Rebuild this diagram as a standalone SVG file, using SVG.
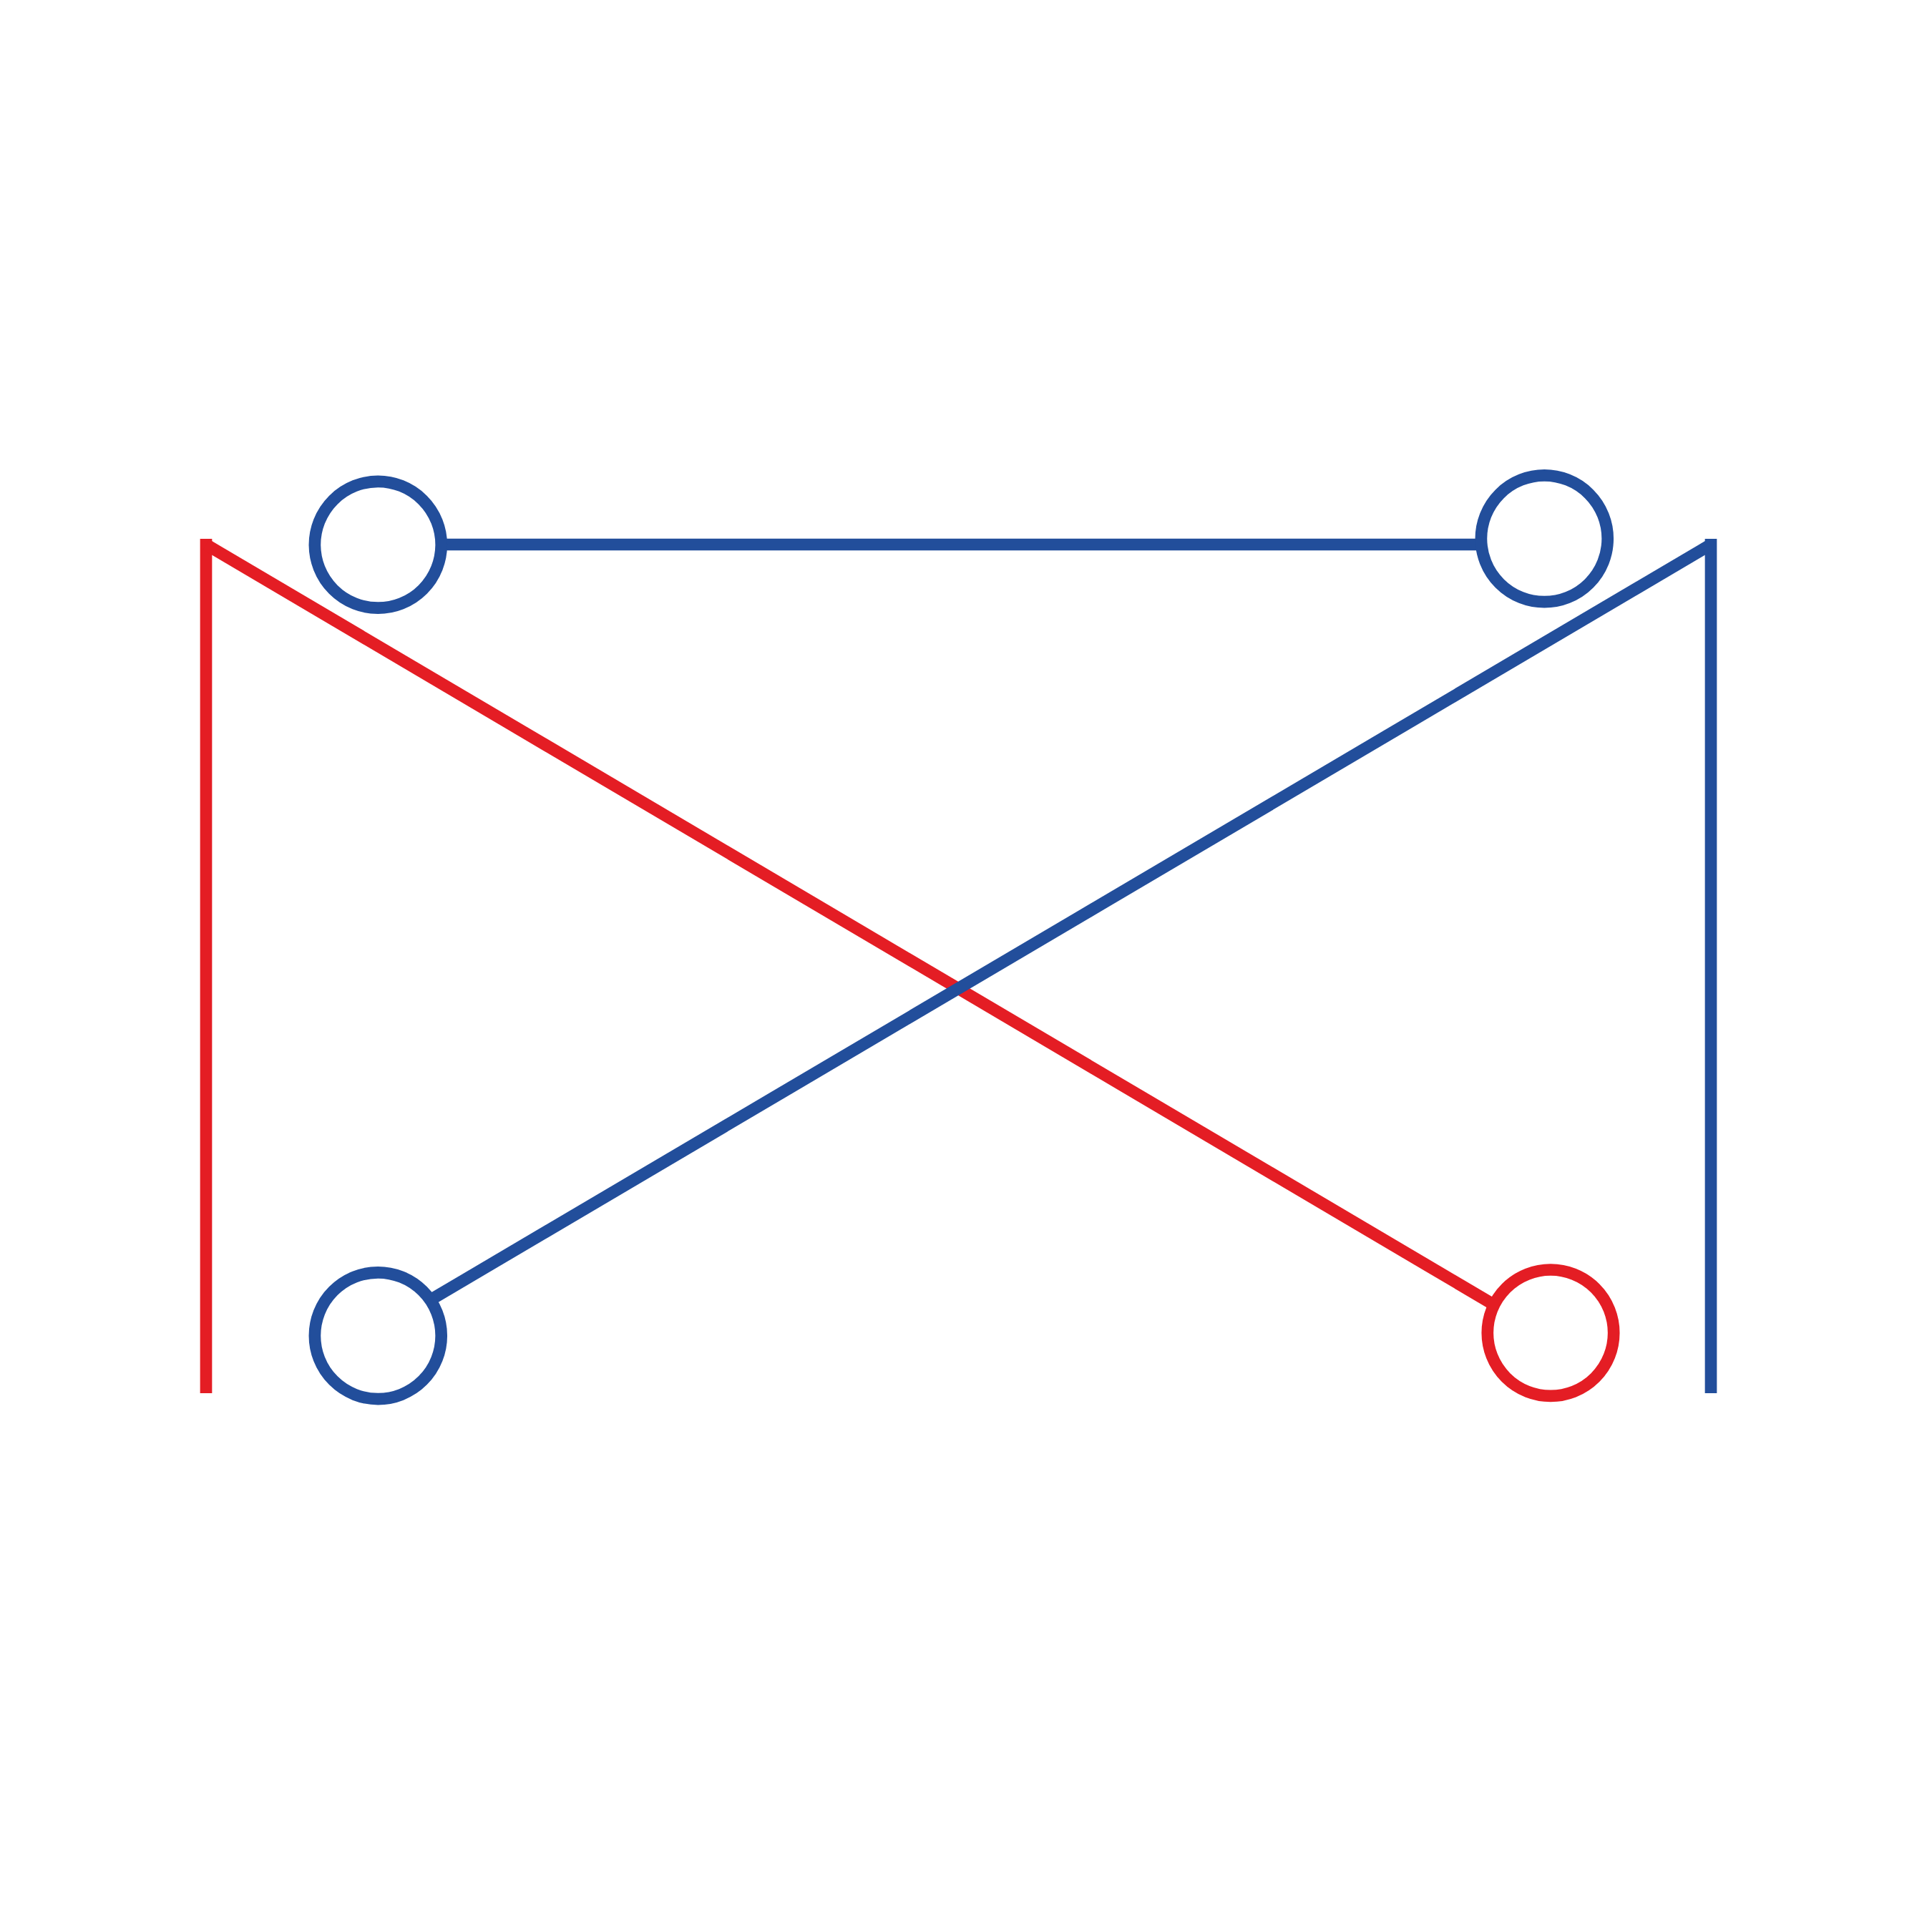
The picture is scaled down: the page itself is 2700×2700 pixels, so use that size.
<svg xmlns="http://www.w3.org/2000/svg" width="2700" height="2700" viewBox="0 0 2700 2700">
<style>
.b{stroke:#224E9B}
.r{stroke:#E41D24}
line,polyline{stroke-width:16.7;fill:none;stroke-linecap:butt}
circle{stroke-width:16.7;fill:#fff}
</style>
<rect width="2700" height="2700" fill="#fff"/>
<g id="connectors">
<line class="r" x1="288" y1="753" x2="288" y2="1947"/>
<line class="r" x1="288" y1="761" x2="2082" y2="1820"/>
<line class="b" x1="2391" y1="753" x2="2391" y2="1947"/>
<line class="b" x1="2391" y1="761" x2="606" y2="1814"/>
<line class="b" x1="618" y1="761" x2="2068" y2="761"/>
</g>
<g id="node-tl"><circle class="b" cx="528.3" cy="761.3" r="88.4"/></g>
<g id="node-tr"><circle class="b" cx="2158.3" cy="752.8" r="88.4"/></g>
<g id="node-bl"><circle class="b" cx="528.3" cy="1866.7" r="88.4"/></g>
<g id="node-br"><circle class="r" cx="2167" cy="1862.7" r="88.2"/></g>
</svg>
